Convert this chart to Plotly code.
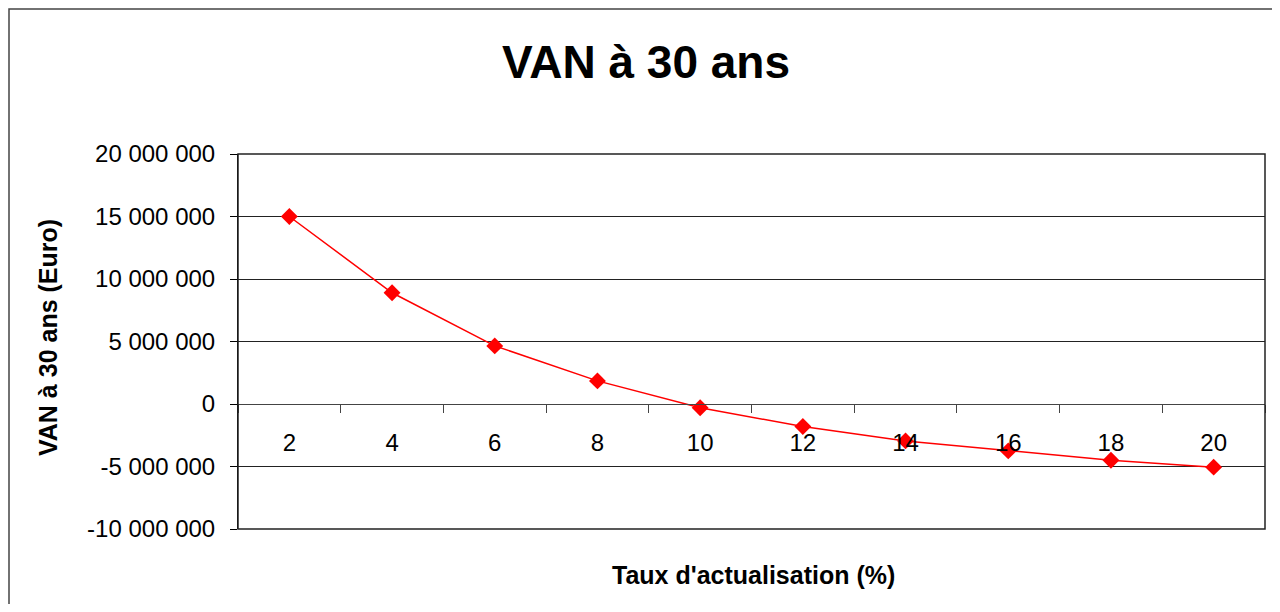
import plotly.graph_objects as go

###### DATA ######
taux = ['2', '4', '6', '8', '10', '12', '14', '16', '18', '20']
van = [15_000_000, 8_900_000, 4_650_000, 1_850_000, -300_000,
       -1_800_000, -2_950_000, -3_750_000, -4_500_000, -5_050_000]
y_ticks = [-10_000_000, -5_000_000, 0, 5_000_000, 10_000_000, 15_000_000, 20_000_000]
y_labels = ['{:,}'.format(v).replace(',', ' ') for v in y_ticks]

FONT = 'Liberation Sans, Arial, sans-serif'

# page body has an 8px margin, so the figure is drawn 8px in from the corner
OFF = 8
W, H = 1280 - 2 * OFF, 612 - 2 * OFF
L, R, T, B = 238 - OFF, W - (1265 - OFF), 154 - OFF, H - (529 - OFF)
PW, PH = W - L - R, H - T - B


def px_x(x):  # reference pixel -> paper x
    return (x - OFF - L) / PW


def px_y(y):  # reference pixel -> paper y
    return (H - B - (y - OFF)) / PH


###### PLOT ######
fig = go.Figure()
fig.add_trace(go.Scatter(
    x=taux,
    y=van,
    mode='lines+markers',
    line=dict(color='#ff0000', width=1.5),
    marker=dict(symbol='diamond', size=13, color='#ff0000'),
    showlegend=False,
))

fig.update_layout(
    width=W,
    height=H,
    margin=dict(l=L, r=R, t=T, b=B),
    paper_bgcolor='white',
    plot_bgcolor='white',
    font=dict(family=FONT, color='black'),
    title=dict(
        text='<b>VAN à 30 ans</b>',
        font=dict(size=46, family=FONT, color='black'),
        x=(646 - OFF) / W, xanchor='center', xref='container',
        y=1 - (62 - OFF) / H, yanchor='middle', yref='container',
    ),
)

# x axis sits on the zero line, like Excel
fig.update_xaxes(
    type='category',
    range=[-0.5, len(taux) - 0.5],
    anchor='free',
    position=1 / 3,
    showline=True,
    linecolor='#444444',
    linewidth=1,
    showgrid=False,
    ticks='outside',
    tickson='boundaries',
    ticklen=8,
    tickcolor='#444444',
    ticklabelstandoff=17,
    tickfont=dict(size=24, family=FONT, color='black'),
)

fig.update_yaxes(
    range=[-10_000_000, 20_000_000],
    tickvals=y_ticks,
    ticktext=y_labels,
    showline=True,
    linecolor='black',
    linewidth=1,
    showgrid=True,
    gridcolor='#222222',
    gridwidth=1,
    zeroline=False,
    ticks='outside',
    ticklen=7,
    tickcolor='black',
    ticklabelstandoff=10,
    tickfont=dict(size=24, family=FONT, color='black'),
)

# plot area border
fig.add_shape(type='rect', xref='paper', yref='paper', x0=0, x1=1, y0=0, y1=1,
              line=dict(color='#222222', width=1.5), layer='above')
# outer chart frame (partly cut off, as in the picture)
fig.add_shape(type='rect', xref='paper', yref='paper',
              x0=px_x(OFF + 1), x1=px_x(1295), y0=px_y(630), y1=px_y(9),
              line=dict(color='#444444', width=1.5))

# axis titles
fig.add_annotation(text="<b>Taux d'actualisation (%)</b>", xref='paper', yref='paper',
                   x=px_x(753), y=px_y(575), showarrow=False,
                   xanchor='center', yanchor='middle',
                   font=dict(size=25, family=FONT, color='black'))
fig.add_annotation(text='<b>VAN à 30 ans (Euro)</b>', xref='paper', yref='paper',
                   x=px_x(48), y=px_y(338), showarrow=False,
                   textangle=-90, xanchor='center', yanchor='middle',
                   font=dict(size=25, family=FONT, color='black'))

fig.write_html('out.html')
